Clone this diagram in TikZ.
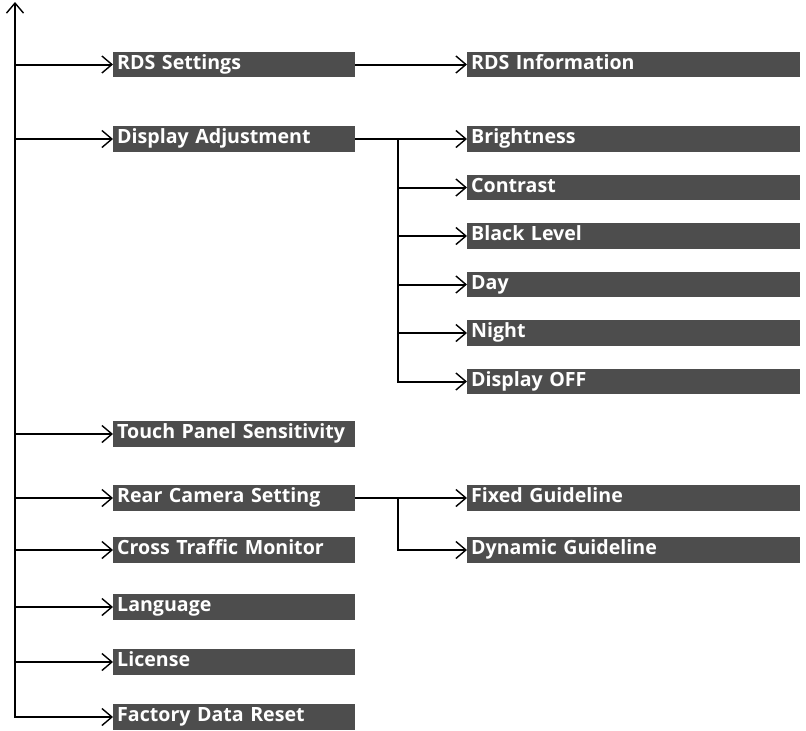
\documentclass[tikz,border=0pt]{standalone}
\usepackage{fontspec}
\setmainfont{Open Sans}
\usepackage{xcolor}
\usetikzlibrary{arrows.meta}
\definecolor{boxFill}{HTML}{4D4D4D}
\definecolor{lineBlack}{HTML}{000000}

\begin{document}
\begin{tikzpicture}[
  x=1pt, y=-1pt,
  every node/.style={font=\fontsize{19.6}{23}\selectfont\bfseries},
  menubox/.style={rectangle, fill=boxFill, text=white, anchor=west,
              text width=234pt, align=left, inner xsep=4pt, inner ysep=0pt,
              text height=17.5pt, text depth=8pt},
  subbox/.style={menubox, text width=325pt},
  tap/.style={->, >={Straight Barb[length=10pt, width=17pt, line width=1.4pt]},
              lineBlack, line width=2pt},
]
  \useasboundingbox (0,0) rectangle (806,731);

  % ═══ Spine on the left: runs from the top arrow down to the last entry ═══
  \coordinate (spine_top) at (15, 2);

  % First level menu entries
  \node[menubox] at (113, 64.5) (rds) {RDS Settings};
  \node[menubox] at (113, 139) (dispadj) {Display Adjustment};
  \node[menubox] at (113, 434) (touch) {Touch Panel Sensitivity};
  \node[menubox] at (113, 498) (rearcam) {Rear Camera Setting};
  \node[menubox] at (113, 550) (crosstraffic) {Cross Traffic Monitor};
  \node[menubox] at (113, 607) (language) {Language};
  \node[menubox] at (113, 662) (license) {License};
  \node[menubox] at (113, 717) (factory) {Factory Data Reset};

  \draw[tap, <->] (spine_top) |- (factory.west);
  \draw[tap] (spine_top |- rds.west) -- (rds.west);
  \draw[tap] (spine_top |- dispadj.west) -- (dispadj.west);
  \draw[tap] (spine_top |- touch.west) -- (touch.west);
  \draw[tap] (spine_top |- rearcam.west) -- (rearcam.west);
  \draw[tap] (spine_top |- crosstraffic.west) -- (crosstraffic.west);
  \draw[tap] (spine_top |- language.west) -- (language.west);
  \draw[tap] (spine_top |- license.west) -- (license.west);

  % ═══ RDS Settings: one sub entry ═══
  \node[subbox] at (467, 64.5) (rdsinfo) {RDS Information};
  \draw[tap] (rds.east) -- (rdsinfo.west);

  % ═══ Display Adjustment: six sub entries on a fork ═══
  \node[subbox] at (467, 139) (bright) {Brightness};
  \node[subbox] at (467, 187.5) (contrast) {Contrast};
  \node[subbox] at (467, 236) (blacklvl) {Black Level};
  \node[subbox] at (467, 284.5) (day) {Day};
  \node[subbox] at (467, 333) (night) {Night};
  \node[subbox] at (467, 381.5) (dispoff) {Display OFF};

  \coordinate (da_fork) at (398, 139);
  \draw[tap] (dispadj.east) -- (bright.west);
  \draw[tap] (da_fork) |- (dispoff.west);
  \draw[tap] (da_fork |- contrast.west) -- (contrast.west);
  \draw[tap] (da_fork |- blacklvl.west) -- (blacklvl.west);
  \draw[tap] (da_fork |- day.west) -- (day.west);
  \draw[tap] (da_fork |- night.west) -- (night.west);

  % ═══ Rear Camera Setting: two sub entries ═══
  \node[subbox] at (467, 498) (fixedgl) {Fixed Guideline};
  \node[subbox] at (467, 550) (dynamicgl) {Dynamic Guideline};

  \coordinate (rc_fork) at (398, 498);
  \draw[tap] (rearcam.east) -- (fixedgl.west);
  \draw[tap] (rc_fork) |- (dynamicgl.west);
\end{tikzpicture}
\end{document}
